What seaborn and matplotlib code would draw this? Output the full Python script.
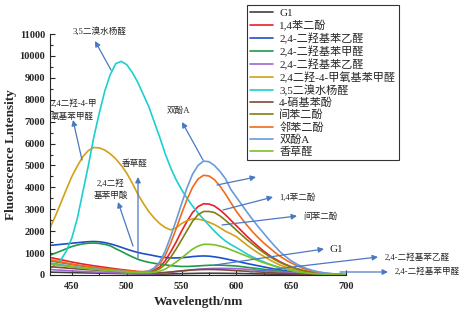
import matplotlib
matplotlib.use("Agg")
import matplotlib.pyplot as plt
import seaborn as sns

# 波长 (nm), 每 5 nm 一个点
wavelength = list(range(430, 701, 5))

g1 = [130, 125, 120, 115, 110, 105, 100, 95, 90, 85, 80, 75, 70, 65, 60, 55, 50, 45, 40,
      40, 40, 45, 50, 55, 60, 65, 70, 75, 80, 80, 80, 78, 75, 72, 70, 65, 60, 55, 50, 45,
      40, 35, 30, 25, 20, 18, 15, 12, 10, 8, 5, 4, 3, 2, 2]
hydroquinone = [800, 750, 700, 645, 590, 545, 500, 460, 420, 385, 350, 315, 280, 250, 220,
                190, 160, 145, 150, 220, 360, 640, 1050, 1500, 2000, 2450, 2850, 3120, 3250,
                3240, 3150, 2970, 2750, 2500, 2250, 2000, 1750, 1520, 1300, 1090, 900, 740,
                600, 480, 380, 290, 220, 165, 120, 85, 60, 42, 30, 18, 10]
dhb_acet_1 = [1350, 1375, 1400, 1425, 1450, 1475, 1500, 1520, 1530, 1515, 1480, 1420, 1350,
              1265, 1180, 1100, 1030, 975, 930, 880, 830, 800, 780, 780, 790, 810, 840, 860,
              870, 860, 830, 790, 740, 685, 630, 575, 520, 470, 420, 370, 320, 275, 230, 195,
              160, 130, 100, 80, 60, 45, 30, 22, 15, 10, 5]
dhb_ald = [900, 1000, 1100, 1200, 1300, 1370, 1420, 1450, 1460, 1440, 1400, 1330, 1200, 1080,
           950, 830, 720, 640, 580, 535, 500, 465, 430, 405, 390, 390, 400, 415, 430, 445, 450,
           448, 440, 425, 410, 380, 350, 320, 290, 260, 230, 200, 170, 145, 120, 100, 80, 65,
           50, 38, 25, 18, 12, 8, 5]
dhb_acet_2 = [250, 235, 220, 205, 190, 175, 160, 150, 140, 130, 120, 110, 100, 90, 80, 70, 60,
              55, 50, 58, 70, 92, 120, 150, 180, 210, 240, 262, 280, 292, 300, 302, 300, 296,
              290, 276, 260, 240, 220, 200, 180, 160, 140, 120, 100, 85, 70, 57, 45, 35, 25,
              18, 12, 8, 5]
methoxy = [2150, 2700, 3300, 3920, 4500, 4980, 5400, 5680, 5820, 5800, 5700, 5530, 5300, 5000,
           4650, 4200, 3700, 3280, 2900, 2600, 2350, 2170, 2060, 2150, 2350, 2480, 2560, 2550,
           2500, 2410, 2300, 2160, 2000, 1880, 1750, 1550, 1350, 1170, 1000, 850, 700, 570,
           450, 360, 280, 215, 160, 120, 90, 65, 45, 30, 20, 15, 10]
dibromo = [300, 480, 700, 1100, 1700, 2600, 3800, 5000, 6300, 7400, 8400, 9150, 9650, 9750,
           9600, 9250, 8800, 8250, 7700, 7000, 6300, 5550, 4900, 4350, 3900, 3500, 3150, 2830,
           2550, 2270, 2000, 1760, 1550, 1390, 1250, 1100, 950, 820, 700, 600, 500, 410, 330,
           265, 210, 160, 120, 90, 70, 50, 35, 25, 15, 10, 5]
nitrophenol = [380, 360, 340, 320, 300, 280, 260, 245, 230, 215, 200, 185, 170, 155, 140, 125,
               110, 100, 90, 92, 100, 118, 140, 165, 190, 210, 230, 242, 250, 252, 250, 242,
               230, 215, 200, 185, 170, 155, 140, 125, 110, 95, 80, 67, 55, 45, 35, 27, 20,
               15, 10, 7, 5, 3, 2]
resorcinol = [650, 605, 560, 520, 480, 440, 400, 370, 340, 310, 280, 255, 230, 205, 180, 160,
              140, 130, 130, 180, 280, 480, 800, 1180, 1600, 2030, 2450, 2750, 2900, 2900,
              2850, 2700, 2500, 2280, 2050, 1820, 1600, 1400, 1200, 1020, 850, 700, 570, 460,
              360, 280, 210, 155, 110, 80, 55, 38, 25, 15, 10]
catechol = [700, 650, 600, 550, 500, 460, 420, 385, 350, 320, 290, 265, 240, 215, 190, 170,
            150, 155, 180, 290, 500, 880, 1450, 2100, 2800, 3450, 4000, 4380, 4550, 4520, 4350,
            4060, 3700, 3300, 2900, 2570, 2250, 1960, 1700, 1460, 1250, 1040, 850, 690, 550,
            430, 320, 240, 180, 130, 90, 65, 45, 30, 20]
bisphenol = [550, 510, 470, 435, 400, 365, 330, 305, 280, 255, 230, 210, 190, 170, 150, 135,
             120, 140, 180, 320, 600, 1080, 1750, 2480, 3250, 3980, 4600, 5000, 5200, 5170,
             5000, 4730, 4400, 3900, 3550, 3200, 2850, 2520, 2200, 1900, 1600, 1320, 1050,
             840, 650, 500, 380, 280, 200, 140, 100, 70, 50, 35, 20]
vanillin = [500, 465, 430, 400, 370, 340, 310, 285, 260, 240, 220, 200, 180, 160, 140, 125,
            110, 102, 100, 125, 170, 270, 420, 590, 780, 980, 1180, 1320, 1400, 1400, 1380,
            1320, 1250, 1150, 1050, 950, 850, 750, 650, 560, 480, 400, 330, 270, 210, 160,
            120, 90, 65, 48, 35, 25, 15, 10, 5]

names = ["G1", "1,4苯二酚", "2,4-二羟基苯乙醛", "2,4-二羟基苯甲醛", "2,4-二羟基苯乙醛",
         "2,4二羟-4-甲氧基苯甲醛", "3,5二溴水杨醛", "4-硝基苯酚", "间苯二酚", "邻苯二酚",
         "双酚A", "香草醛"]
series = [g1, hydroquinone, dhb_acet_1, dhb_ald, dhb_acet_2, methoxy, dibromo,
          nitrophenol, resorcinol, catechol, bisphenol, vanillin]
colors = ["#404040", "#e8202a", "#1f4fc8", "#1e9a4a", "#a066d0", "#d4a017", "#1ccfd0",
          "#7b4a3a", "#808010", "#f26b1d", "#6a9bd8", "#7cbf2a"]

sns.set_style("ticks")
plt.rcParams["font.family"] = ["Liberation Serif", "Noto Sans CJK SC"]

fig = plt.figure(figsize=(4.72, 3.13), dpi=100)
ax = fig.add_axes([50 / 472, 38 / 313, 296 / 472, 241 / 313])

for name, vals, c in zip(names, series, colors):
    sns.lineplot(x=wavelength, y=vals, color=c, label=name, lw=1.2, ax=ax)

ax.set_xlim(430, 700)
ax.set_ylim(0, 11000)
ax.set_xticks([450, 500, 550, 600, 650, 700])
ax.set_yticks(range(0, 11001, 1000))
ax.set_xticks(range(450, 701, 25), minor=True)
ax.set_yticks(range(0, 11001, 500), minor=True)
ax.tick_params(which="both", direction="in", labelsize=7.5, width=0.8)
ax.tick_params(which="major", length=3.5)
ax.tick_params(which="minor", length=2)
ax.tick_params(axis="x", pad=5)
for lab in ax.get_xticklabels() + ax.get_yticklabels():
    lab.set_fontweight("bold")
sns.despine(ax=ax)
ax.set_xlabel("Wavelength/nm", fontsize=9.5, fontweight="bold", labelpad=4)
ax.set_ylabel("Fluorescence Lntensity", fontsize=9.5, fontweight="bold", labelpad=2)

ax.get_legend().remove()
handles, labels = ax.get_legend_handles_labels()
leg = fig.legend(handles, labels, loc="upper left", bbox_to_anchor=(247 / 472, 1 - 5 / 313),
                 borderaxespad=0, fontsize=8, frameon=True, fancybox=False,
                 handlelength=2.0, labelspacing=0.15, borderpad=0.3, handletextpad=0.6)
leg.get_frame().set_edgecolor("black")
leg.get_frame().set_linewidth(0.8)


def px(x, y):
    # 像素位置 -> 数据坐标
    return 430 + (x - 50) / 296 * 270, (275 - y) / 241 * 11000


arrow_col = "#4a78c2"
arrows = [((111, 70), (95, 41)), ((82, 160), (73, 120)), ((203, 160), (182, 122)),
          ((138, 258), (138, 177)), ((133, 246), (118, 202)), ((217, 185), (256, 177)),
          ((223, 210), (273, 197)), ((222, 225), (297, 216)), ((215, 265), (324, 249)),
          ((250, 272), (378, 257)), ((340, 272), (388, 272))]
for tail, head in arrows:
    ax.annotate("", xy=px(*head), xytext=px(*tail), annotation_clip=False,
                arrowprops=dict(arrowstyle="-|>", color=arrow_col, lw=0.9,
                                mutation_scale=8, shrinkA=0, shrinkB=0))

labels_txt = [("3,5二溴水杨醛", 100, 31, "center"), ("2,4二羟-4-甲\n氧基苯甲醛", 51, 110, "left"),
              ("双酚A", 178, 111, "center"), ("香草醛", 135, 164, "center"),
              ("2,4二羟\n基苯甲酸", 111, 189, "center"), ("1,4苯二酚", 279, 198, "left"),
              ("间苯二酚", 303, 217, "left"), ("2,4-二羟基苯乙醛", 385, 257, "left"),
              ("2,4-二羟基苯甲醛", 395, 271, "left")]
for txt, x, y, ha in labels_txt:
    ax.text(*px(x, y), txt, fontsize=6.2, ha=ha, va="center", linespacing=1.6)
ax.text(*px(330, 249), "G1", fontsize=8, ha="left", va="center")

fig.savefig("out.png", dpi=100)
